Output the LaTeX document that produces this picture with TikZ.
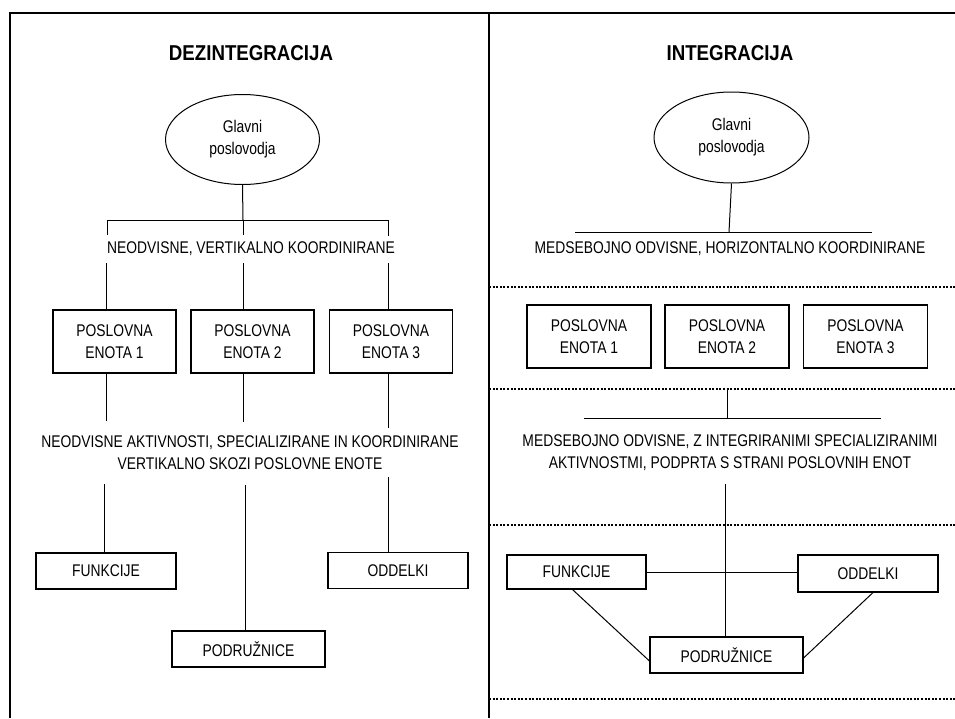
\documentclass[tikz,border=0pt]{standalone}
\usepackage{fontspec}
\setmainfont[FakeStretch=0.82]{Liberation Sans}
\usetikzlibrary{shapes.geometric}
\begin{document}
\begin{tikzpicture}[x=1pt,y=-1pt,
  txt/.style={font=\fontsize{16.9}{22}\selectfont, align=center, inner sep=0pt},
  ttl/.style={font=\addfontfeatures{FakeStretch=0.87}\fontsize{21.5}{24}\selectfont\bfseries, inner sep=0pt},
  boss/.style={ellipse, draw, line width=1pt, minimum width=154pt, minimum height=90pt, inner sep=0pt, txt},
  pebox/.style={draw, line width=1.1pt, txt, minimum width=123pt, minimum height=63pt},
  wbox/.style={draw, line width=1.1pt, txt, minimum width=140pt, minimum height=36pt},
  link/.style={line width=1pt},
  framel/.style={line width=2.2pt},
  dots/.style={line width=1.8pt, dash pattern=on 2pt off 1.6pt},
]
\useasboundingbox (0,0) rectangle (955,718);

% frame
\coordinate (fbl) at (10,718);
\coordinate (ftl) at (10,13);
\coordinate (ftr) at (955,13);
\coordinate (mt) at (489,13);
\coordinate (mb) at (489,718);
\draw[framel] (fbl) -- (ftl) -- (ftr);
\draw[framel] (mt) -- (mb);

% ---------- left panel ----------
\node[ttl] (tL) at (251,53) {DEZINTEGRACIJA};
\node[boss] (gL) at (242.5,139.5) {Glavni\\poslovodja};
\node[txt] (nvk) at (251,249) {NEODVISNE, VERTIKALNO KOORDINIRANE};

\node[pebox] (pL1) at (114.5,341.5) {POSLOVNA\\ENOTA 1};
\node[pebox] (pL2) at (252.5,341.5) {POSLOVNA\\ENOTA 2};
\node[pebox] (pL3) at (391,341.5) {POSLOVNA\\ENOTA 3};

\node[txt] (nak) at (250,452.5) {NEODVISNE AKTIVNOSTI, SPECIALIZIRANE IN KOORDINIRANE\\VERTIKALNO SKOZI POSLOVNE ENOTE};

\node[wbox] (fL) at (106,571) {FUNKCIJE};
\node[wbox] (oL) at (398,570.5) {ODDELKI};
\node[wbox, minimum width=153pt] (pdL) at (248.5,649) {PODRUŽNICE};

% column coordinates
\coordinate (c1) at (106,0);
\coordinate (c2) at (243,0);
\coordinate (c3) at (388,0);

\coordinate (jL) at (243,220);
\coordinate (hL1) at (107,220);
\coordinate (hL3) at (388,220);
\coordinate (tk1) at (107,235);
\coordinate (tk2) at (243,235);
\coordinate (tk3) at (388,236);
\draw[link] (gL.south) -- (jL);
\draw[link] (tk1) -- (hL1) -- (hL3) -- (tk3);
\draw[link] (jL) -- (tk2);

\coordinate (u1) at (106,263);
\coordinate (u2) at (243,263);
\coordinate (u3) at (388,263);
\draw[link] (u1) -- (pL1.north -| c1);
\draw[link] (u2) -- (pL2.north -| c2);
\draw[link] (u3) -- (pL3.north -| c3);

\coordinate (d1) at (106,421);
\coordinate (d2) at (243,422);
\coordinate (d3) at (388,428);
\draw[link] (pL1.south -| c1) -- (d1);
\draw[link] (pL2.south -| c2) -- (d2);
\draw[link] (pL3.south -| c3) -- (d3);

\coordinate (e1) at (104,484);
\coordinate (e2) at (245,485);
\coordinate (e3) at (388,477);
\draw[link] (e1) -- (fL.north -| e1);
\draw[link] (e2) -- (pdL.north -| e2);
\draw[link] (e3) -- (oL.north -| e3);

% ---------- right panel ----------
\node[ttl] (tR) at (730,53) {INTEGRACIJA};
\node[boss, minimum width=155pt, minimum height=91pt] (gR) at (731.5,137.5) {Glavni\\poslovodja};
\coordinate (jR) at (729,232);
\coordinate (hR1) at (575,232);
\coordinate (hR2) at (872,232);
\draw[link] (gR.south) -- (jR);
\draw[link] (hR1) -- (hR2);
\node[txt] (mhk) at (730,249) {MEDSEBOJNO ODVISNE, HORIZONTALNO KOORDINIRANE};

\coordinate (dt1a) at (489,287); \coordinate (dt1b) at (955,287);
\draw[dots] (dt1a) -- (dt1b);

\node[pebox, minimum width=124pt] (pR1) at (589,336.5) {POSLOVNA\\ENOTA 1};
\node[pebox, minimum width=124pt] (pR2) at (727,336.5) {POSLOVNA\\ENOTA 2};
\node[pebox, minimum width=124pt] (pR3) at (865.5,336.5) {POSLOVNA\\ENOTA 3};

\coordinate (dt2a) at (489,389); \coordinate (dt2b) at (955,389);
\draw[dots] (dt2a) -- (dt2b);

\coordinate (kR) at (727,389);
\coordinate (kR2) at (727,418);
\coordinate (hR3) at (584,418);
\coordinate (hR4) at (881,418);
\draw[link] (kR) -- (kR2);
\draw[link] (hR3) -- (hR4);

\node[txt] (mzi) at (730,452.5) {MEDSEBOJNO ODVISNE, Z INTEGRIRANIMI SPECIALIZIRANIMI\\AKTIVNOSTMI, PODPRTA S STRANI POSLOVNIH ENOT};

\coordinate (dt3a) at (489,525); \coordinate (dt3b) at (955,525);
\draw[dots] (dt3a) -- (dt3b);

\node[wbox, minimum width=139pt, minimum height=34pt] (fR) at (576.5,572) {FUNKCIJE};
\node[wbox, minimum height=37pt] (oR) at (868,573.5) {ODDELKI};
\node[wbox, minimum width=153pt] (pdR) at (726.5,655) {PODRUŽNICE};

\coordinate (vR) at (725,484);
\draw[link] (vR) -- (pdR.north -| vR);
\draw[link] (fR.east) -- (oR.west |- fR.east);
\draw[link] ([xshift=-4pt]fR.south) -- ([yshift=-6pt]pdR.west);
\draw[link] ([xshift=5pt]oR.south) -- ([yshift=-3pt]pdR.east);

\coordinate (dt4a) at (489,699); \coordinate (dt4b) at (955,699);
\draw[dots] (dt4a) -- (dt4b);
\end{tikzpicture}
\end{document}
